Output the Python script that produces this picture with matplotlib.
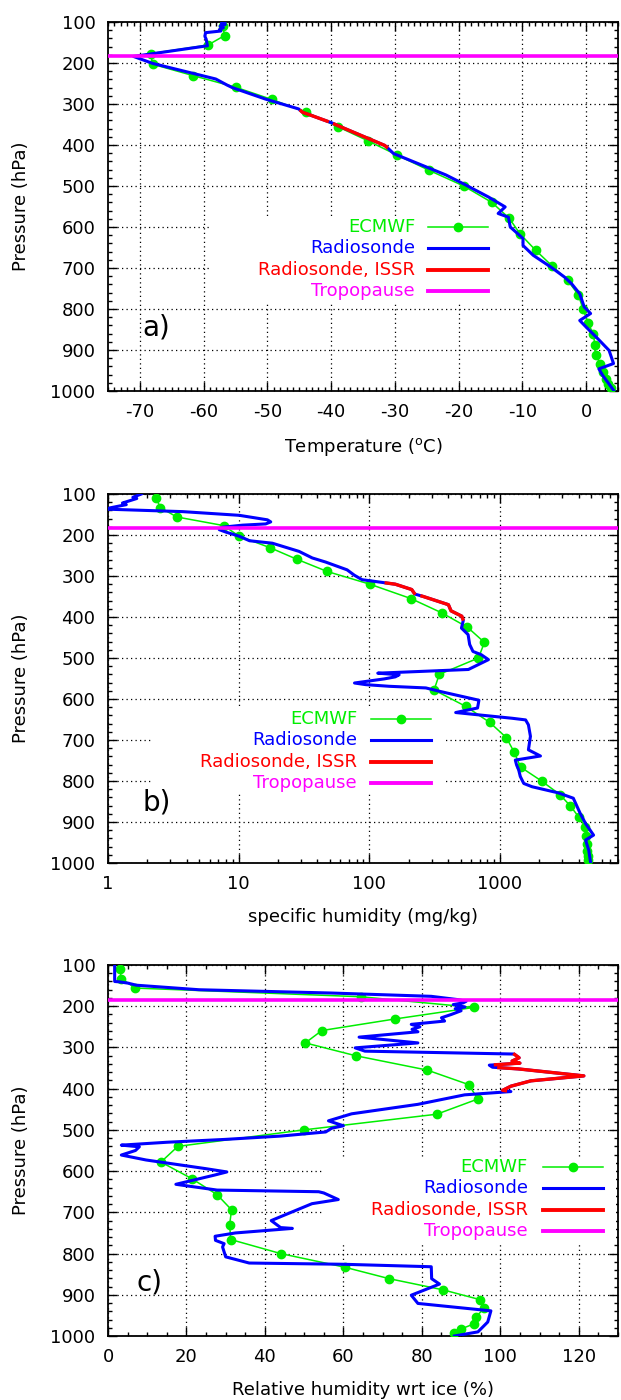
import numpy as np
import matplotlib
matplotlib.use("Agg")
import matplotlib.pyplot as plt
from matplotlib.ticker import MultipleLocator, LogLocator, NullFormatter, FixedLocator, FixedFormatter
from matplotlib.patches import Rectangle

plt.rcParams["font.family"] = ["DejaVu Sans"]
plt.rcParams["axes.unicode_minus"] = False
plt.rcParams["mathtext.default"] = "regular"

# ---------------- data ----------------
p_tropopause = 184
issr_layers = [(317, 342), (349, 405)]

p_ecmwf = [110, 133, 156, 177, 203, 231, 259, 289, 320, 355, 390, 425, 462, 500, 540, 578,
           618, 657, 694, 730, 766, 800, 833, 861, 888, 912, 933, 953, 970, 983, 993]
t_ecmwf = [-57.0, -56.7, -59.3, -68.3, -68.0, -61.6, -55.0, -49.3, -43.9, -39.0, -34.2, -29.6,
           -24.6, -19.2, -14.8, -12.1, -10.3, -7.9, -5.4, -2.9, -1.2, -0.5, 0.3, 1.1, 1.4, 1.5,
           2.2, 2.7, 3.1, 3.5, 3.9]
q_ecmwf = [2.34, 2.51, 3.36, 7.67, 10.1, 17.4, 27.8, 47.6, 101, 208, 359, 564, 760, 684, 343,
           313, 547, 834, 1117, 1286, 1437, 2080, 2871, 3459, 4009, 4508, 4590, 4643, 4670,
           4700, 4725]
rh_ecmwf = [3.0, 3.4, 7.0, 64.5, 93.2, 73.1, 54.5, 50.3, 63.1, 81.4, 91.9, 94.3, 83.8, 49.9,
            17.8, 13.5, 21.3, 27.8, 31.5, 31.0, 31.3, 44.0, 60.3, 71.7, 85.4, 94.9, 95.9, 93.8,
            93.4, 90.0, 88.3]

p_rs_t = [100, 103, 106, 110, 114, 118, 122, 126, 135, 142, 150, 158, 184, 201, 219, 239, 254,
          260, 288, 312, 320, 346, 355, 401, 409, 421, 473, 495, 527, 551, 567, 576, 600, 628,
          645, 669, 698, 722, 738, 763, 795, 811, 828, 844, 872, 901, 933, 946, 962, 998]
t_rs = [-56.7, -57.2, -56.6, -57.4, -56.9, -57.5, -57.3, -59.7, -59.8, -59.6, -59.5, -59.4,
        -71.0, -68.0, -63.3, -58.1, -56.3, -55.5, -50.3, -45.1, -44.5, -39.9, -38.6, -31.6,
        -31.0, -30.2, -22.0, -19.2, -15.3, -12.7, -13.8, -12.2, -11.9, -9.9, -9.9, -8.3, -5.5,
        -3.4, -2.3, -1.0, -0.3, 0.7, -1.0, 0.0, 1.8, 3.6, 4.3, 2.0, 2.6, 4.3]

p_rs_q = [100, 108, 111, 122, 126, 130, 134, 137, 143, 152, 163, 168, 173, 176, 181, 187, 193,
          203, 214, 220, 240, 256, 266, 285, 298, 309, 320, 333, 344, 350, 370, 385, 398, 408,
          427, 443, 467, 484, 492, 504, 528, 537, 541, 546, 551, 561, 565, 569, 573, 581, 592,
          603, 622, 633, 647, 651, 663, 691, 724, 739, 749, 761, 773, 789, 806, 814, 829, 842,
          879, 904, 932, 944, 969, 1000]
q_rs = [1.80, 1.55, 1.66, 1.29, 1.38, 1.19, 1.03, 0.98, 3.73, 10.1, 16.6, 17.6, 16.1, 10.7,
        7.5, 7.1, 8.0, 10.1, 12.1, 18.1, 29, 36.6, 46.3, 67.6, 76.7, 88, 158, 211, 223, 259,
        403, 422, 510, 524, 507, 570, 586, 621, 719, 816, 573, 116, 169, 158, 130, 77, 94, 142,
        271, 342, 485, 690, 673, 458, 1240, 1570, 1650, 1710, 1650, 2040, 1310, 1340, 1390,
        1430, 1520, 1760, 2800, 3640, 4110, 4520, 5200, 4520, 4780, 4940]

p_rs_rh = [100, 140, 141, 144, 149, 160, 168, 176, 184, 188, 192, 196, 202, 206, 211, 220, 228,
           236, 244, 250, 256, 262, 275, 289, 301, 309, 316, 325, 333, 338, 343, 348, 352, 369,
           381, 394, 404, 407, 415, 438, 461, 478, 490, 496, 505, 515, 523, 530, 537, 541, 550,
           561, 573, 594, 602, 610, 632, 646, 650, 653, 669, 679, 720, 737, 739, 750, 758, 768,
           776, 784, 808, 823, 826, 832, 861, 874, 901, 921, 939, 966, 990, 1000]
rh_rs = [1.7, 1.7, 3.0, 5.1, 7.2, 23.2, 57.0, 82.4, 89.2, 91.3, 90.5, 88.0, 91.0, 88.5, 90.0,
         87.5, 85.0, 85.8, 77.3, 79.5, 77.5, 79.0, 64.0, 79.0, 63.0, 65.5, 103.5, 104.8, 103.0,
         105.0, 97.2, 98.0, 104.5, 121.3, 107.8, 102.7, 100.6, 102.7, 90.9, 79.0, 62.1, 56.2,
         60.0, 57.0, 55.5, 44.0, 30.0, 15.0, 3.4, 8.0, 7.0, 3.4, 9.7, 24.9, 30.3, 27.0, 17.3,
         27.8, 53.7, 55.0, 58.7, 52.0, 41.6, 44.0, 47.0, 32.5, 27.3, 27.4, 29.6, 29.2, 30.0,
         36.0, 60.0, 82.4, 82.5, 84.5, 77.3, 79.0, 97.6, 96.8, 94.3, 88.3]

key_labels = ["ECMWF", "Radiosonde", "Radiosonde, ISSR", "Tropopause"]

GREEN = "#00ee00"
BLUE = "#0000ff"
RED = "#ff0000"
MAGENTA = "#ff00ff"
FS = 13

# ---------------- layout ----------------
FIG_W, FIG_H = 621, 1400
AX_L, AX_R = 108, 618
AX_W = AX_R - AX_L
panel_px = [(22, 391), (494, 863), (965, 1336)]

fig = plt.figure(figsize=(FIG_W / 100, FIG_H / 100), dpi=100)
axes = []
for top, bot in panel_px:
    ax = fig.add_axes([AX_L / FIG_W, 1 - bot / FIG_H, AX_W / FIG_W, (bot - top) / FIG_H])
    axes.append(ax)


def style_axes(ax):
    ax.set_ylim(1000, 100)
    ax.yaxis.set_major_locator(MultipleLocator(100))
    ax.yaxis.set_minor_locator(MultipleLocator(20))
    ax.tick_params(which="both", direction="in", top=True, right=True, color="black")
    ax.tick_params(which="major", length=6.5, width=1.0, labelsize=FS)
    ax.tick_params(which="minor", length=3.2, width=1.0)
    ax.tick_params(axis="x", which="major", pad=8.5)
    ax.tick_params(axis="y", which="major", pad=9)
    ax.grid(True, which="major", color="black", linestyle=(0, (1, 2.6)), linewidth=0.9)
    ax.set_axisbelow(True)
    for s in ax.spines.values():
        s.set_linewidth(1.3)
    ax.set_ylabel("Pressure (hPa)", fontsize=FS)
    ax.yaxis.set_label_coords(-0.152, 0.5)


def plot_profile(ax, x_ec, p_rs, x_rs, log=False):
    ax.plot(x_ec, p_ecmwf, color=GREEN, lw=1.1, marker="o", ms=6, zorder=3)
    ax.plot(x_rs, p_rs, color=BLUE, lw=2.2, zorder=4)
    p = np.asarray(p_rs, float)
    x = np.asarray(x_rs, float)
    if log:
        x = np.log10(x)
    for lo, hi in issr_layers:
        inside = (p > lo) & (p < hi)
        pp = np.concatenate([[lo], p[inside], [hi]])
        xx = np.interp(pp, p, x)
        if log:
            xx = 10 ** xx
        ax.plot(xx, pp, color=RED, lw=2.4, zorder=5)
    ax.axhline(p_tropopause, color=MAGENTA, lw=2.6, zorder=6)


def draw_key(ax, top_px, bot_px, text_right, s0, s1, row1):
    h = bot_px - top_px
    fx = lambda x: (x - AX_L) / AX_W
    fy = lambda y: 1 - (y - top_px) / h
    dy = 21.3
    rows = [row1 + i * dy for i in range(4)]
    box_top = row1 - 10
    box_bot = rows[-1] + 11
    ax.add_patch(Rectangle((fx(text_right - 205), fy(box_bot)), 293 / AX_W,
                           (box_bot - box_top) / h, transform=ax.transAxes,
                           facecolor="white", edgecolor="none", zorder=1))
    specs = [(GREEN, 1.1, True), (BLUE, 2.2, False), (RED, 2.8, False), (MAGENTA, 2.8, False)]
    for label, (color, lw, mk), y in zip(key_labels, specs, rows):
        ax.text(fx(text_right), fy(y), label, color=color, fontsize=FS, ha="right",
                va="center", transform=ax.transAxes, zorder=7)
        ax.plot([fx(s0), fx(s1)], [fy(y), fy(y)], color=color, lw=lw,
                transform=ax.transAxes, zorder=7)
        if mk:
            ax.plot([fx((s0 + s1) / 2)], [fy(y)], "o", color=color, ms=6,
                    transform=ax.transAxes, zorder=7)


for ax in axes:
    style_axes(ax)

# panel a
ax = axes[0]
plot_profile(ax, t_ecmwf, p_rs_t, t_rs)
ax.set_xlim(-75, 5)
ax.xaxis.set_major_locator(MultipleLocator(10))
ax.xaxis.set_minor_locator(MultipleLocator(1))
ax.set_xlabel(r"Temperature ($^{\rm o}$C)", fontsize=FS)
ax.xaxis.set_label_coords(0.5, -0.122)
draw_key(ax, *panel_px[0], 415, 428, 488, 227)
ax.text(0.067, 0.173, "a)", fontsize=20, ha="left", va="center", transform=ax.transAxes)

# panel b
ax = axes[1]
ax.set_xscale("log")
plot_profile(ax, q_ecmwf, p_rs_q, q_rs, log=True)
ax.set_xlim(1, 8000)
ax.xaxis.set_major_locator(FixedLocator([1, 10, 100, 1000]))
ax.xaxis.set_major_formatter(FixedFormatter(["1", "10", "100", "1000"]))
ax.xaxis.set_minor_locator(LogLocator(base=10, subs=np.arange(2, 10)))
ax.xaxis.set_minor_formatter(NullFormatter())
ax.set_xlabel("specific humidity (mg/kg)", fontsize=FS)
ax.xaxis.set_label_coords(0.5, -0.122)
draw_key(ax, *panel_px[1], 357, 371, 431, 719)
ax.text(0.067, 0.163, "b)", fontsize=20, ha="left", va="center", transform=ax.transAxes)

# panel c
ax = axes[2]
plot_profile(ax, rh_ecmwf, p_rs_rh, rh_rs)
ax.set_xlim(0, 130)
ax.xaxis.set_major_locator(MultipleLocator(20))
ax.xaxis.set_minor_locator(MultipleLocator(5))
ax.set_xlabel("Relative humidity wrt ice (%)", fontsize=FS)
ax.xaxis.set_label_coords(0.5, -0.122)
draw_key(ax, *panel_px[2], 528, 543, 603, 1167)
ax.text(0.056, 0.143, "c)", fontsize=20, ha="left", va="center", transform=ax.transAxes)

fig.savefig("out.png", dpi=100)
